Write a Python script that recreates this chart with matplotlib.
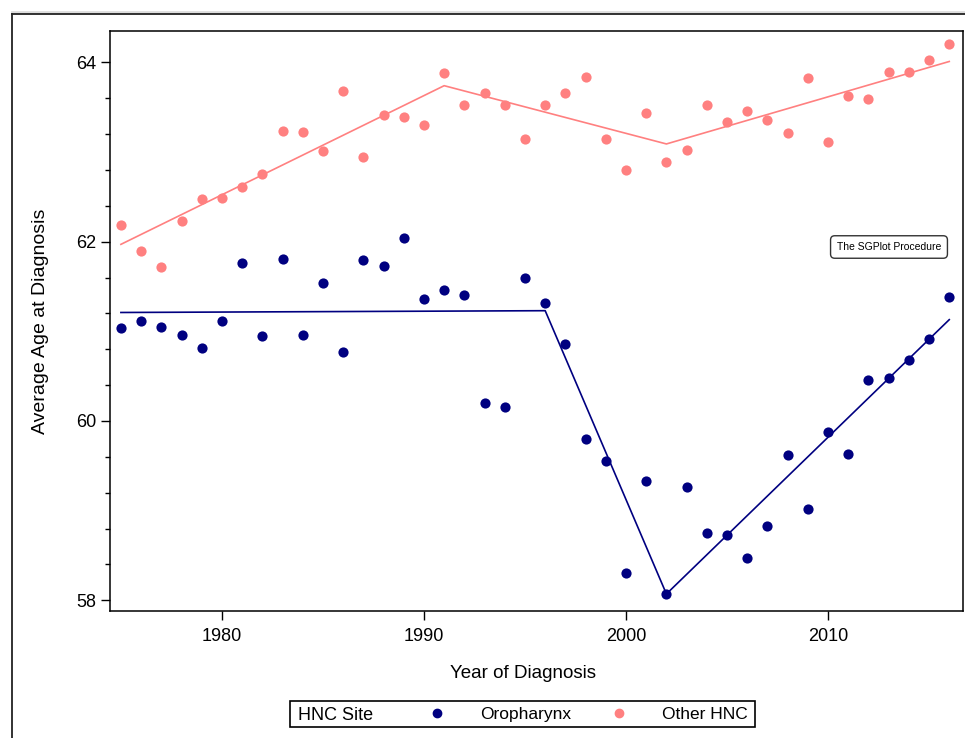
import matplotlib
matplotlib.use("Agg")
import matplotlib.pyplot as plt
from matplotlib.lines import Line2D
from matplotlib.patches import Rectangle
from matplotlib.ticker import MultipleLocator

plt.rcParams['font.family'] = ['Liberation Sans', 'DejaVu Sans']

# observed averages by year of diagnosis
years = list(range(1975, 2017))
oropharynx = [61.04, 61.11, 61.05, 60.96, 60.81, 61.11, 61.76, 60.95, 61.81, 60.96,
              61.54, 60.77, 61.80, 61.73, 62.04, 61.36, 61.46, 61.40, 60.20, 60.16,
              61.59, 61.32, 60.86, 59.80, 59.55, 58.30, 59.33, 58.07, 59.26, 58.75,
              58.73, 58.47, 58.83, 59.62, 59.02, 59.88, 59.63, 60.46, 60.48, 60.68,
              60.91, 61.38]
other_hnc = [62.19, 61.90, 61.72, 62.23, 62.48, 62.49, 62.61, 62.75, 63.24, 63.22,
             63.01, 63.68, 62.94, 63.41, 63.39, 63.30, 63.88, 63.53, 63.66, 63.52,
             63.15, 63.53, 63.66, 63.84, 63.15, 62.80, 63.44, 62.89, 63.02, 63.52,
             63.33, 63.46, 63.36, 63.21, 63.83, 63.11, 63.63, 63.59, 63.89, 63.89,
             64.03, 64.21]

# joinpoint fitted lines
oro_join_years = [1975, 1996, 2002, 2016]
oro_fit = [61.21, 61.23, 58.07, 61.13]
oth_join_years = [1975, 1991, 2002, 2016]
oth_fit = [61.97, 63.74, 63.09, 64.01]

navy = '#000080'
pink = '#ff8080'

fig = plt.figure(figsize=(9.65, 7.38), dpi=100)
ax = fig.add_axes([110 / 965, 1 - 611 / 738, 853 / 965, 580 / 738])

ax.scatter(years, oropharynx, s=54, color=navy, linewidths=0, zorder=3)
ax.scatter(years, other_hnc, s=54, color=pink, linewidths=0, zorder=3)
ax.plot(oro_join_years, oro_fit, color=navy, lw=1.2, zorder=2)
ax.plot(oth_join_years, oth_fit, color=pink, lw=1.2, zorder=2)

ax.set_xlim(1974.46, 2016.68)
ax.set_ylim(57.88, 64.35)
ax.xaxis.set_major_locator(MultipleLocator(10))
ax.yaxis.set_major_locator(MultipleLocator(2))
ax.yaxis.set_minor_locator(MultipleLocator(0.4))
ax.tick_params(axis='both', which='major', length=6.5, width=1.0, labelsize=13)
ax.tick_params(axis='y', which='minor', length=3.8, width=1.0)
ax.tick_params(axis='y', which='major', pad=3.5)
ax.tick_params(axis='x', which='major', pad=6)
for sp in ax.spines.values():
    sp.set_linewidth(1.1)

ax.set_xlabel('Year of Diagnosis', fontsize=13.5)
ax.set_ylabel('Average Age at Diagnosis', fontsize=14)
ax.xaxis.set_label_coords(0.484, -0.107)
ax.xaxis.label.set_va('center')
ax.yaxis.set_label_coords(-0.082, 0.5)
ax.yaxis.label.set_va('center')

# inset note
fig.text(889 / 965, 1 - 247 / 738, 'The SGPlot Procedure', fontsize=7.5,
         ha='center', va='center',
         bbox=dict(boxstyle='round,pad=0.6,rounding_size=0.4', fc='white',
                   ec='#333333', lw=1.0))

# legend frame and entries
fig.add_artist(Rectangle((290 / 965, 1 - 727 / 738), 465 / 965, 26 / 738,
                         transform=fig.transFigure, fill=False, ec='black', lw=1.2))
fig.text(298 / 965, 1 - 715.5 / 738, 'HNC Site', fontsize=13, ha='left', va='center')
handles = [Line2D([], [], linestyle='none', marker='o', ms=6, color=navy, label='Oropharynx'),
           Line2D([], [], linestyle='none', marker='o', ms=6, color=pink, label='Other HNC')]
fig.legend(handles=handles, ncol=2, loc='center left',
           bbox_to_anchor=(428.3 / 965, 1 - 714 / 738), frameon=False,
           fontsize=12.5, handlelength=1.0, handletextpad=1.98,
           columnspacing=2.26, borderpad=0, borderaxespad=0)

# outer graph border
fig.add_artist(Line2D([12 / 965, 1], [1 - 12 / 738, 1 - 12 / 738],
                      transform=fig.transFigure, color='#dddddd', lw=2))
fig.add_artist(Line2D([12 / 965, 1], [1 - 14 / 738, 1 - 14 / 738],
                      transform=fig.transFigure, color='#222222', lw=1.3))
fig.add_artist(Line2D([12 / 965, 12 / 965], [0, 1 - 14 / 738],
                      transform=fig.transFigure, color='#222222', lw=1.3))

fig.savefig('out.png', dpi=100)
